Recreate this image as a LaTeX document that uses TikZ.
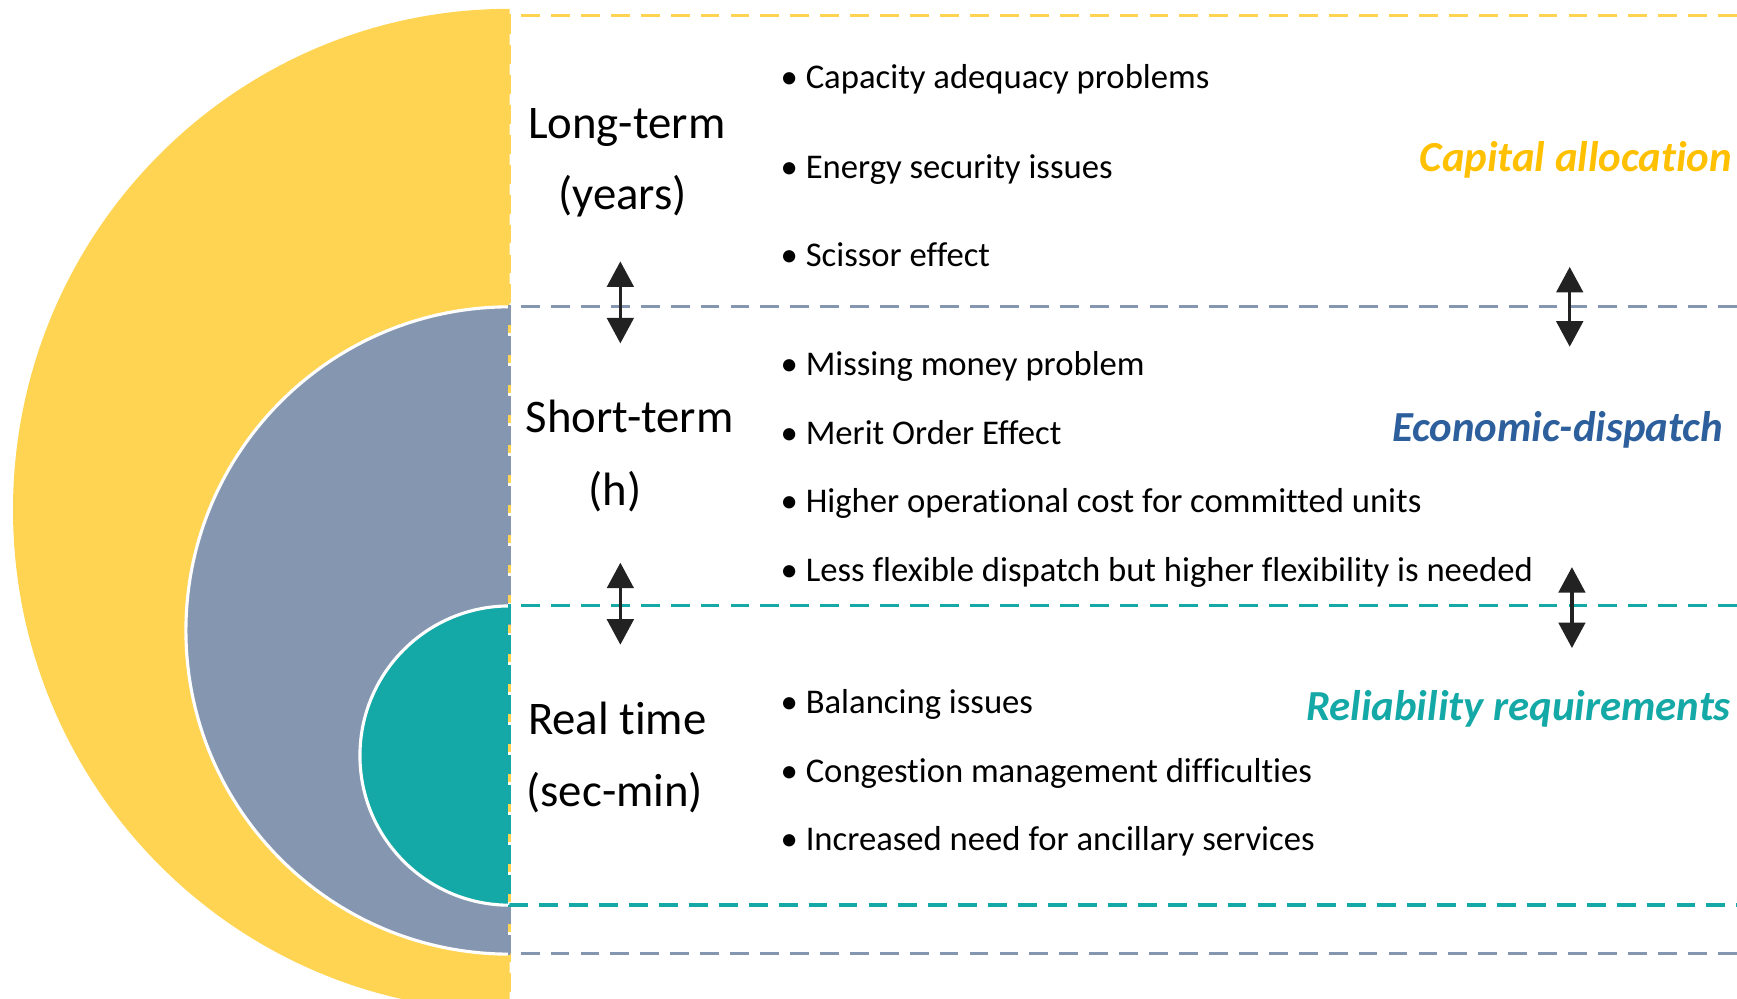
\documentclass[tikz,border=0pt]{standalone}
\usepackage{fontspec}
\setmainfont{Carlito}[Ligatures=CommonOff]
\usetikzlibrary{arrows.meta}
\definecolor{longyellow}{HTML}{FED452}
\definecolor{shortgrey}{HTML}{8597B0}
\definecolor{realteal}{HTML}{14A9A6}
\definecolor{capyellow}{HTML}{FFC000}
\definecolor{ecoblue}{HTML}{2D5F9D}
\definecolor{arrowgrey}{HTML}{222222}

\begin{document}
\begin{tikzpicture}[x=0.01cm, y=0.01cm,
    bandline/.style={line width=0.8pt, dash pattern=on 0.17cm off 0.10cm},
    period/.style={font=\fontsize{12pt}{14pt}\selectfont, inner sep=0pt},
    item/.style={font=\fontsize{8.9pt}{10pt}\selectfont, inner sep=0pt, anchor=base west},
    driver/.style={font=\fontsize{11pt}{13pt}\selectfont\bfseries\itshape, inner sep=0pt, anchor=base east},
    updown/.style={arrowgrey, line width=0.8pt, {Triangle[length=0.23cm, width=0.24cm]}-{Triangle[length=0.23cm, width=0.24cm]}}]
    \useasboundingbox (0,0) rectangle (1568,901);

    % Nested half discs
    \fill[longyellow] (460,893) arc[start angle=90, end angle=270, x radius=4.48cm, y radius=4.52cm] -- cycle;
    \filldraw[shortgrey, draw=white, line width=0.8pt] (460,624) arc[start angle=90, end angle=270, radius=2.92cm] -- cycle;
    \filldraw[realteal, draw=white, line width=0.8pt] (460,354) arc[start angle=90, end angle=270, radius=1.35cm] -- cycle;

    % Dashed bands
    \draw[bandline, longyellow] (1568,887) -- (460,887) -- (460,0);
    \draw[bandline, shortgrey] (1568,624) -- (460,624) -- (460,40) -- (1568,40);
    \draw[bandline, realteal] (1568,354) -- (460,354) -- (460,84) -- (1568,84);

    % Time scales
    \node[period, anchor=base west] (longterm) at (476,776) {Long-term};
    \node[period, anchor=base] (years) at (562,712) {(years)};
    \node[period, anchor=base west] (shortterm) at (474,511) {Short-term};
    \node[period, anchor=base] (hours) at (555,445) {(h)};
    \node[period, anchor=base west] (realtime) at (476,238) {Real time};
    \node[period, anchor=base] (secmin) at (555,173) {(sec-min)};

    % Issues
    \foreach \txt/\yy [count=\i] in {Capacity adequacy problems/821, Energy security issues/740,
        Scissor effect/660, Missing money problem/562, Merit Order Effect/500,
        Higher operational cost for committed units/438,
        Less flexible dispatch but higher flexibility is needed/376,
        Balancing issues/257, Congestion management difficulties/195,
        Increased need for ancillary services/133} {
        \node[item] (issue\i) at (704,\yy) {\textbullet\ \txt};
    }

    % Drivers
    \node[driver, capyellow] (capital) at (1564,746) {Capital allocation};
    \node[driver, ecoblue] (dispatch) at (1556,502) {Economic-dispatch};
    \node[driver, realteal] (reliab) at (1563,251) {Reliability requirements};

    % Coupling arrows
    \coordinate (la1) at (560,665); \coordinate (lb1) at (560,591);
    \coordinate (la2) at (560,393); \coordinate (lb2) at (560,319);
    \coordinate (ra1) at (1417,660); \coordinate (rb1) at (1417,588);
    \coordinate (ra2) at (1419,389); \coordinate (rb2) at (1419,316);
    \draw[updown] (la1) -- (lb1);
    \draw[updown] (la2) -- (lb2);
    \draw[updown] (ra1) -- (rb1);
    \draw[updown] (ra2) -- (rb2);
\end{tikzpicture}
\end{document}
